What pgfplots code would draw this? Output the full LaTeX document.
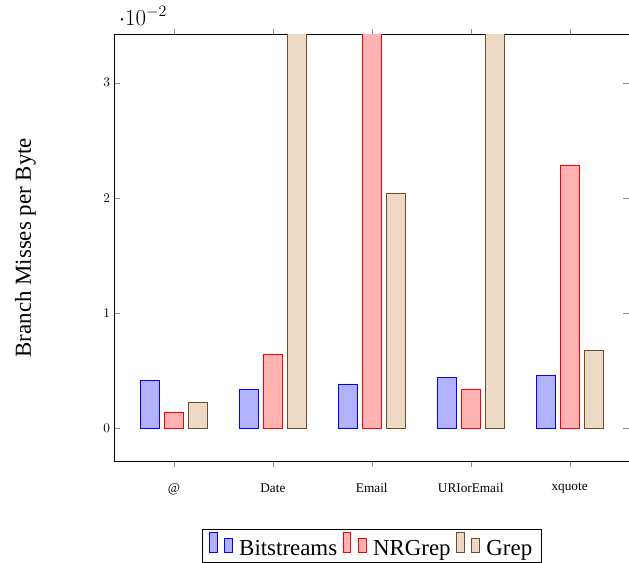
\documentclass[border={8pt 0pt 0pt 5pt}]{standalone}
\usepackage{fontspec}
\setmainfont{Liberation Serif}
\usepackage{pgfplots}
\pgfplotsset{compat=1.18}

% branch misses per byte, one table per group of bars
\pgfplotstableread{
x y
0 0.00419
1 0.00336
2 0.00385
3 0.00440
4 0.00462
}\bitstreams
\pgfplotstableread{
x y
0 0.00143
1 0.00647
2 0.0450
3 0.00341
4 0.02284
}\nrgrep
\pgfplotstableread{
x y
0 0.00224
1 0.0450
2 0.02043
3 0.0450
4 0.00681
}\grep

\begin{document}
\begin{tikzpicture}[trim axis right]
\begin{axis}[
    scale only axis,
    width=388pt,
    height=322pt,
    ybar=3.75pt,
    bar width=14.25pt,
    xmin=-0.6, xmax=4.6,
    ymin=-0.00285, ymax=0.0342,
    xtick=data,
    xticklabels={@,Date,Email,URIorEmail,xquote},
    xtick align=outside,
    xticklabel style={yshift=-9pt},
    ytick={0,0.01,0.02,0.03},
    tick style={black!45},
    every y tick scale label/.append style={font=\LARGE, yshift=-3pt},
    ylabel={Branch Misses per Byte},
    ylabel style={font=\LARGE},
    ylabel shift=44pt,
    legend style={at={(0.5,-0.16)}, anchor=north, legend columns=-1, font=\LARGE,
        inner xsep=5pt,
        /tikz/every odd column/.append style={column sep=3pt},
        /tikz/every even column/.append style={column sep=2pt}},
    legend image code/.code={
        \draw[#1,/tikz/.cd,bar width=6pt,yshift=-3pt,bar shift=0pt]
            plot coordinates {(0pt,15pt) (11.6pt,10.7pt)};
    },
]
\addplot table[x=x,y=y] {\bitstreams};
\addplot table[x=x,y=y] {\nrgrep};
\addplot table[x=x,y=y] {\grep};
\legend{Bitstreams,NRGrep,Grep}
\end{axis}
\end{tikzpicture}
\end{document}
